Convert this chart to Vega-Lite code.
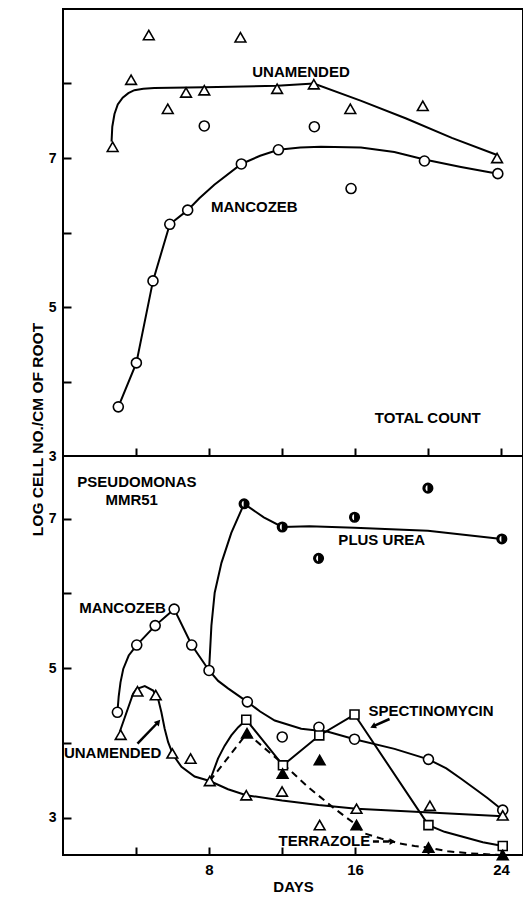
{
  "$schema": "https://vega.github.io/schema/vega-lite/v6.json",
  "background": "white",
  "padding": {"left": 29, "top": 8, "right": 1, "bottom": 2},
  "bounds": "flush",
  "spacing": 0,
  "resolve": {"scale": {"y": "independent"}},
  "config": {
    "font": "Liberation Sans",
    "view": {"stroke": "black", "strokeWidth": 2, "fill": "white"},
    "axis": {
      "domain": false, "grid": false,
      "tickColor": "black", "tickSize": -8, "tickWidth": 2,
      "labelFont": "Liberation Sans", "labelFontWeight": "bold", "labelColor": "black",
      "titleFont": "Liberation Sans", "titleFontWeight": "bold", "titleColor": "black"
    },
    "text": {"font": "Liberation Sans", "fontWeight": "bold", "fontSize": 15, "fill": "black"}
  },
  "datasets": {
    "top_pts": [
      {"series": "UNAMENDED", "day": 2.72, "val": 7.15},
      {"series": "UNAMENDED", "day": 3.73, "val": 8.05},
      {"series": "UNAMENDED", "day": 4.70, "val": 8.65},
      {"series": "UNAMENDED", "day": 5.74, "val": 7.66},
      {"series": "UNAMENDED", "day": 6.74, "val": 7.88},
      {"series": "UNAMENDED", "day": 7.74, "val": 7.91},
      {"series": "UNAMENDED", "day": 9.72, "val": 8.62},
      {"series": "UNAMENDED", "day": 11.73, "val": 7.93},
      {"series": "UNAMENDED", "day": 13.74, "val": 7.99},
      {"series": "UNAMENDED", "day": 15.74, "val": 7.66},
      {"series": "UNAMENDED", "day": 19.71, "val": 7.70},
      {"series": "UNAMENDED", "day": 23.78, "val": 7.00},
      {"series": "MANCOZEB", "day": 3.03, "val": 3.66},
      {"series": "MANCOZEB", "day": 4.02, "val": 4.25},
      {"series": "MANCOZEB", "day": 4.93, "val": 5.35},
      {"series": "MANCOZEB", "day": 5.85, "val": 6.11},
      {"series": "MANCOZEB", "day": 6.83, "val": 6.30},
      {"series": "MANCOZEB", "day": 7.74, "val": 7.43},
      {"series": "MANCOZEB", "day": 9.77, "val": 6.92},
      {"series": "MANCOZEB", "day": 11.80, "val": 7.11},
      {"series": "MANCOZEB", "day": 13.77, "val": 7.42},
      {"series": "MANCOZEB", "day": 15.78, "val": 6.59},
      {"series": "MANCOZEB", "day": 19.80, "val": 6.96},
      {"series": "MANCOZEB", "day": 23.82, "val": 6.79}
    ],
    "top_curves": [
      {"series": "UNAMENDED", "day": 2.66, "val": 7.22},
      {"series": "UNAMENDED", "day": 2.70, "val": 7.42},
      {"series": "UNAMENDED", "day": 2.82, "val": 7.59},
      {"series": "UNAMENDED", "day": 3.00, "val": 7.72},
      {"series": "UNAMENDED", "day": 3.27, "val": 7.81},
      {"series": "UNAMENDED", "day": 3.58, "val": 7.87},
      {"series": "UNAMENDED", "day": 3.91, "val": 7.91},
      {"series": "UNAMENDED", "day": 4.40, "val": 7.93},
      {"series": "UNAMENDED", "day": 5.00, "val": 7.94},
      {"series": "UNAMENDED", "day": 7.74, "val": 7.95},
      {"series": "UNAMENDED", "day": 11.73, "val": 7.97},
      {"series": "UNAMENDED", "day": 13.74, "val": 8.00},
      {"series": "UNAMENDED", "day": 16.30, "val": 7.77},
      {"series": "UNAMENDED", "day": 18.80, "val": 7.53},
      {"series": "UNAMENDED", "day": 21.30, "val": 7.27},
      {"series": "UNAMENDED", "day": 23.78, "val": 7.04},
      {"series": "MANCOZEB", "day": 3.03, "val": 3.66},
      {"series": "MANCOZEB", "day": 4.02, "val": 4.25},
      {"series": "MANCOZEB", "day": 4.93, "val": 5.35},
      {"series": "MANCOZEB", "day": 5.85, "val": 6.11},
      {"series": "MANCOZEB", "day": 6.83, "val": 6.30},
      {"series": "MANCOZEB", "day": 7.47, "val": 6.46},
      {"series": "MANCOZEB", "day": 8.29, "val": 6.64},
      {"series": "MANCOZEB", "day": 9.77, "val": 6.92},
      {"series": "MANCOZEB", "day": 10.80, "val": 7.03},
      {"series": "MANCOZEB", "day": 11.80, "val": 7.11},
      {"series": "MANCOZEB", "day": 13.00, "val": 7.14},
      {"series": "MANCOZEB", "day": 14.13, "val": 7.15},
      {"series": "MANCOZEB", "day": 16.32, "val": 7.14},
      {"series": "MANCOZEB", "day": 18.15, "val": 7.08},
      {"series": "MANCOZEB", "day": 19.80, "val": 6.98},
      {"series": "MANCOZEB", "day": 21.80, "val": 6.88},
      {"series": "MANCOZEB", "day": 23.82, "val": 6.79}
    ],
    "top_labels": [
      {"label": "UNAMENDED", "day": 13.04, "val": 8.16},
      {"label": "MANCOZEB", "day": 10.48, "val": 6.34},
      {"label": "TOTAL COUNT", "day": 19.98, "val": 3.51}
    ],
    "bot_pts": [
      {"series": "MANCOZEB", "day": 2.98, "val": 4.41},
      {"series": "MANCOZEB", "day": 4.04, "val": 5.31},
      {"series": "MANCOZEB", "day": 5.05, "val": 5.57},
      {"series": "MANCOZEB", "day": 6.09, "val": 5.79},
      {"series": "MANCOZEB", "day": 7.05, "val": 5.31},
      {"series": "MANCOZEB", "day": 8.00, "val": 4.97},
      {"series": "MANCOZEB", "day": 10.10, "val": 4.55},
      {"series": "MANCOZEB", "day": 12.01, "val": 4.08},
      {"series": "MANCOZEB", "day": 14.02, "val": 4.21},
      {"series": "MANCOZEB", "day": 15.97, "val": 4.05},
      {"series": "MANCOZEB", "day": 20.02, "val": 3.78},
      {"series": "MANCOZEB", "day": 24.09, "val": 3.10},
      {"series": "UNAMENDED", "day": 3.16, "val": 4.11},
      {"series": "UNAMENDED", "day": 4.08, "val": 4.69},
      {"series": "UNAMENDED", "day": 5.08, "val": 4.64},
      {"series": "UNAMENDED", "day": 5.99, "val": 3.86},
      {"series": "UNAMENDED", "day": 6.99, "val": 3.79},
      {"series": "UNAMENDED", "day": 8.04, "val": 3.49},
      {"series": "UNAMENDED", "day": 10.04, "val": 3.30},
      {"series": "UNAMENDED", "day": 12.00, "val": 3.35},
      {"series": "UNAMENDED", "day": 14.06, "val": 2.90},
      {"series": "UNAMENDED", "day": 16.08, "val": 3.12},
      {"series": "UNAMENDED", "day": 20.10, "val": 3.16},
      {"series": "UNAMENDED", "day": 24.09, "val": 3.03},
      {"series": "SPECTINOMYCIN", "day": 10.04, "val": 4.31},
      {"series": "SPECTINOMYCIN", "day": 12.05, "val": 3.70},
      {"series": "SPECTINOMYCIN", "day": 14.04, "val": 4.10},
      {"series": "SPECTINOMYCIN", "day": 15.97, "val": 4.38},
      {"series": "SPECTINOMYCIN", "day": 20.02, "val": 2.90},
      {"series": "SPECTINOMYCIN", "day": 24.09, "val": 2.62},
      {"series": "TERRAZOLE", "day": 10.08, "val": 4.13},
      {"series": "TERRAZOLE", "day": 12.03, "val": 3.59},
      {"series": "TERRAZOLE", "day": 14.06, "val": 3.77},
      {"series": "TERRAZOLE", "day": 16.08, "val": 2.90},
      {"series": "TERRAZOLE", "day": 20.02, "val": 2.60},
      {"series": "TERRAZOLE", "day": 24.09, "val": 2.50},
      {"series": "PLUS UREA", "day": 9.92, "val": 7.20},
      {"series": "PLUS UREA", "day": 12.01, "val": 6.89},
      {"series": "PLUS UREA", "day": 14.00, "val": 6.47},
      {"series": "PLUS UREA", "day": 15.97, "val": 7.02},
      {"series": "PLUS UREA", "day": 19.99, "val": 7.41},
      {"series": "PLUS UREA", "day": 24.04, "val": 6.73}
    ],
    "bot_curves": [
      {"series": "MANCOZEB", "day": 2.98, "val": 4.41},
      {"series": "MANCOZEB", "day": 3.05, "val": 4.62},
      {"series": "MANCOZEB", "day": 3.15, "val": 4.81},
      {"series": "MANCOZEB", "day": 3.30, "val": 4.99},
      {"series": "MANCOZEB", "day": 3.60, "val": 5.17},
      {"series": "MANCOZEB", "day": 4.04, "val": 5.31},
      {"series": "MANCOZEB", "day": 5.05, "val": 5.57},
      {"series": "MANCOZEB", "day": 6.09, "val": 5.79},
      {"series": "MANCOZEB", "day": 7.05, "val": 5.31},
      {"series": "MANCOZEB", "day": 8.00, "val": 4.97},
      {"series": "MANCOZEB", "day": 8.50, "val": 4.83},
      {"series": "MANCOZEB", "day": 9.04, "val": 4.73},
      {"series": "MANCOZEB", "day": 10.10, "val": 4.55},
      {"series": "MANCOZEB", "day": 10.80, "val": 4.42},
      {"series": "MANCOZEB", "day": 11.60, "val": 4.30},
      {"series": "MANCOZEB", "day": 13.05, "val": 4.19},
      {"series": "MANCOZEB", "day": 14.52, "val": 4.15},
      {"series": "MANCOZEB", "day": 15.97, "val": 4.05},
      {"series": "MANCOZEB", "day": 18.16, "val": 3.92},
      {"series": "MANCOZEB", "day": 20.02, "val": 3.78},
      {"series": "MANCOZEB", "day": 21.00, "val": 3.66},
      {"series": "MANCOZEB", "day": 21.81, "val": 3.52},
      {"series": "MANCOZEB", "day": 22.60, "val": 3.38},
      {"series": "MANCOZEB", "day": 23.27, "val": 3.26},
      {"series": "MANCOZEB", "day": 24.09, "val": 3.10},
      {"series": "UNAMENDED", "day": 3.11, "val": 4.15},
      {"series": "UNAMENDED", "day": 3.84, "val": 4.66},
      {"series": "UNAMENDED", "day": 4.02, "val": 4.72},
      {"series": "UNAMENDED", "day": 4.48, "val": 4.76},
      {"series": "UNAMENDED", "day": 4.94, "val": 4.70},
      {"series": "UNAMENDED", "day": 5.21, "val": 4.59},
      {"series": "UNAMENDED", "day": 5.39, "val": 4.41},
      {"series": "UNAMENDED", "day": 5.57, "val": 4.19},
      {"series": "UNAMENDED", "day": 5.76, "val": 4.01},
      {"series": "UNAMENDED", "day": 6.03, "val": 3.84},
      {"series": "UNAMENDED", "day": 6.49, "val": 3.68},
      {"series": "UNAMENDED", "day": 7.21, "val": 3.55},
      {"series": "UNAMENDED", "day": 8.04, "val": 3.49},
      {"series": "UNAMENDED", "day": 9.04, "val": 3.38},
      {"series": "UNAMENDED", "day": 10.04, "val": 3.30},
      {"series": "UNAMENDED", "day": 12.00, "val": 3.23},
      {"series": "UNAMENDED", "day": 14.00, "val": 3.17},
      {"series": "UNAMENDED", "day": 16.08, "val": 3.12},
      {"series": "UNAMENDED", "day": 20.10, "val": 3.07},
      {"series": "UNAMENDED", "day": 24.09, "val": 3.02},
      {"series": "SPECTINOMYCIN", "day": 8.04, "val": 3.49},
      {"series": "SPECTINOMYCIN", "day": 8.49, "val": 3.79},
      {"series": "SPECTINOMYCIN", "day": 8.85, "val": 3.96},
      {"series": "SPECTINOMYCIN", "day": 9.22, "val": 4.10},
      {"series": "SPECTINOMYCIN", "day": 9.60, "val": 4.21},
      {"series": "SPECTINOMYCIN", "day": 10.04, "val": 4.31},
      {"series": "SPECTINOMYCIN", "day": 12.05, "val": 3.70},
      {"series": "SPECTINOMYCIN", "day": 14.04, "val": 4.10},
      {"series": "SPECTINOMYCIN", "day": 15.97, "val": 4.38},
      {"series": "SPECTINOMYCIN", "day": 20.02, "val": 2.90},
      {"series": "SPECTINOMYCIN", "day": 20.90, "val": 2.81},
      {"series": "SPECTINOMYCIN", "day": 21.80, "val": 2.75},
      {"series": "SPECTINOMYCIN", "day": 23.00, "val": 2.67},
      {"series": "SPECTINOMYCIN", "day": 24.09, "val": 2.62},
      {"series": "PLUS UREA", "day": 8.00, "val": 4.97},
      {"series": "PLUS UREA", "day": 8.13, "val": 5.57},
      {"series": "PLUS UREA", "day": 8.31, "val": 6.01},
      {"series": "PLUS UREA", "day": 8.68, "val": 6.41},
      {"series": "PLUS UREA", "day": 9.22, "val": 6.81},
      {"series": "PLUS UREA", "day": 9.92, "val": 7.20},
      {"series": "PLUS UREA", "day": 11.00, "val": 7.02},
      {"series": "PLUS UREA", "day": 12.01, "val": 6.89},
      {"series": "PLUS UREA", "day": 13.50, "val": 6.90},
      {"series": "PLUS UREA", "day": 15.97, "val": 6.88},
      {"series": "PLUS UREA", "day": 19.99, "val": 6.84},
      {"series": "PLUS UREA", "day": 24.04, "val": 6.73},
      {"series": "TERRAZOLE", "day": 8.04, "val": 3.49},
      {"series": "TERRAZOLE", "day": 10.08, "val": 4.13},
      {"series": "TERRAZOLE", "day": 12.05, "val": 3.72},
      {"series": "TERRAZOLE", "day": 13.42, "val": 3.41},
      {"series": "TERRAZOLE", "day": 14.88, "val": 3.12},
      {"series": "TERRAZOLE", "day": 16.08, "val": 2.90},
      {"series": "TERRAZOLE", "day": 16.52, "val": 2.79},
      {"series": "TERRAZOLE", "day": 17.43, "val": 2.72},
      {"series": "TERRAZOLE", "day": 18.35, "val": 2.66},
      {"series": "TERRAZOLE", "day": 19.26, "val": 2.62},
      {"series": "TERRAZOLE", "day": 20.02, "val": 2.60},
      {"series": "TERRAZOLE", "day": 21.08, "val": 2.55},
      {"series": "TERRAZOLE", "day": 22.36, "val": 2.52},
      {"series": "TERRAZOLE", "day": 24.09, "val": 2.50}
    ],
    "bot_labels": [
      {"label": "PSEUDOMONAS", "day": 4.05, "val": 7.49},
      {"label": "MMR51", "day": 3.76, "val": 7.25},
      {"label": "PLUS UREA", "day": 17.46, "val": 6.72},
      {"label": "MANCOZEB", "day": 3.26, "val": 5.80},
      {"label": "UNAMENDED", "day": 2.72, "val": 3.87},
      {"label": "SPECTINOMYCIN", "day": 20.16, "val": 4.43},
      {"label": "TERRAZOLE", "day": 14.32, "val": 2.69}
    ],
    "arrows": [
      {"name": "UNAMENDED", "day": 4.08, "val": 3.99, "day2": 5.22, "val2": 4.28},
      {"name": "SPECTINOMYCIN", "day": 17.89, "val": 4.32, "day2": 16.98, "val2": 4.22},
      {"name": "TERRAZOLE", "day": 16.98, "val": 2.68, "day2": 18.05, "val2": 2.68}
    ]
  },
  "vconcat": [
    {
      "width": 460,
      "height": 447,
      "encoding": {
        "x": {"field": "day", "type": "quantitative",
              "scale": {"domain": [0, 25.2], "nice": false, "zero": false},
              "axis": {"values": [4, 8, 12, 16, 20, 24], "labels": false, "title": null}},
        "y": {"field": "val", "type": "quantitative",
              "scale": {"domain": [3, 9], "nice": false, "zero": false},
              "axis": {"values": [3, 4, 5, 6, 7, 8],
                       "labelExpr": "datum.value % 2 == 1 ? datum.label : ''",
                       "labelFontSize": 14, "labelPadding": 15,
                       "title": "LOG CELL NO./CM OF ROOT",
                       "titleFontSize": 15.5, "titleAngle": 270,
                       "titleX": -21, "titleY": 420,
                       "titleAlign": "center", "titleBaseline": "alphabetic"}}
      },
      "layer": [
        {
          "data": {"name": "top_curves"},
          "mark": {"type": "line", "color": "black", "strokeWidth": 2},
          "encoding": {"detail": {"field": "series", "type": "nominal"}}
        },
        {
          "data": {"name": "top_pts"},
          "transform": [{"filter": "datum.series == 'UNAMENDED'"}],
          "mark": {"type": "point", "shape": "triangle-up", "size": 115, "filled": true, "fill": "white", "stroke": "black", "strokeWidth": 1.6, "opacity": 1},
          "encoding": {}
        },
        {
          "data": {"name": "top_pts"},
          "transform": [{"filter": "datum.series == 'MANCOZEB'"}],
          "mark": {"type": "point", "shape": "circle", "size": 100, "filled": true, "fill": "white", "stroke": "black", "strokeWidth": 1.6, "opacity": 1},
          "encoding": {}
        },
        {
          "data": {"name": "top_labels"},
          "mark": {"type": "text", "align": "center", "baseline": "middle"},
          "encoding": {"text": {"field": "label", "type": "nominal"}}
        }
      ]
    },
    {
      "width": 460,
      "height": 399,
      "encoding": {
        "x": {"field": "day", "type": "quantitative",
              "scale": {"domain": [0, 25.2], "nice": false, "zero": false},
              "axis": {"values": [4, 8, 12, 16, 20, 24],
                       "labelExpr": "datum.value % 8 == 0 ? datum.label : ''",
                       "labelFontSize": 15, "labelPadding": 15,
                       "title": "DAYS", "titleFontSize": 15, "titlePadding": 2}},
        "y": {"field": "val", "type": "quantitative",
              "scale": {"domain": [2.5, 7.84], "nice": false, "zero": false},
              "axis": {"values": [3, 4, 5, 6, 7],
                       "labelExpr": "datum.value % 2 == 1 ? datum.label : ''",
                       "labelFontSize": 14, "labelPadding": 15, "title": null}}
      },
      "layer": [
        {
          "data": {"name": "bot_curves"},
          "transform": [{"filter": "datum.series != 'TERRAZOLE'"}],
          "mark": {"type": "line", "color": "black", "strokeWidth": 2},
          "encoding": {"detail": {"field": "series", "type": "nominal"}}
        },
        {
          "data": {"name": "bot_curves"},
          "transform": [{"filter": "datum.series == 'TERRAZOLE'"}],
          "mark": {"type": "line", "color": "black", "strokeWidth": 2, "strokeDash": [7, 5]},
          "encoding": {}
        },
        {
          "data": {"name": "arrows"},
          "transform": [{"filter": "datum.name != 'TERRAZOLE'"}],
          "mark": {"type": "rule", "color": "black", "strokeWidth": 2.5},
          "encoding": {"x2": {"field": "day2"}, "y2": {"field": "val2"}}
        },
        {
          "data": {"name": "arrows"},
          "transform": [{"filter": "datum.name == 'TERRAZOLE'"}],
          "mark": {"type": "rule", "color": "black", "strokeWidth": 2.5, "strokeDash": [6, 4]},
          "encoding": {"x2": {"field": "day2"}, "y2": {"field": "val2"}}
        },
        {
          "data": {"name": "arrows"},
          "transform": [{"filter": "datum.name == 'UNAMENDED'"}],
          "mark": {"type": "point", "shape": "triangle-up", "angle": 42, "filled": true, "color": "black", "size": 45, "opacity": 1},
          "encoding": {"x": {"field": "day2", "type": "quantitative"}, "y": {"field": "val2", "type": "quantitative"}}
        },
        {
          "data": {"name": "arrows"},
          "transform": [{"filter": "datum.name == 'SPECTINOMYCIN'"}],
          "mark": {"type": "point", "shape": "triangle-up", "angle": 246, "filled": true, "color": "black", "size": 45, "opacity": 1},
          "encoding": {"x": {"field": "day2", "type": "quantitative"}, "y": {"field": "val2", "type": "quantitative"}}
        },
        {
          "data": {"name": "arrows"},
          "transform": [{"filter": "datum.name == 'TERRAZOLE'"}],
          "mark": {"type": "point", "shape": "triangle-up", "angle": 90, "filled": true, "color": "black", "size": 45, "opacity": 1},
          "encoding": {"x": {"field": "day2", "type": "quantitative"}, "y": {"field": "val2", "type": "quantitative"}}
        },
        {
          "data": {"name": "bot_pts"},
          "transform": [{"filter": "datum.series == 'MANCOZEB'"}],
          "mark": {"type": "point", "shape": "circle", "size": 100, "filled": true, "fill": "white", "stroke": "black", "strokeWidth": 1.6, "opacity": 1},
          "encoding": {}
        },
        {
          "data": {"name": "bot_pts"},
          "transform": [{"filter": "datum.series == 'UNAMENDED'"}],
          "mark": {"type": "point", "shape": "triangle-up", "size": 115, "filled": true, "fill": "white", "stroke": "black", "strokeWidth": 1.6, "opacity": 1},
          "encoding": {}
        },
        {
          "data": {"name": "bot_pts"},
          "transform": [{"filter": "datum.series == 'SPECTINOMYCIN'"}],
          "mark": {"type": "point", "shape": "square", "size": 80, "filled": true, "fill": "white", "stroke": "black", "strokeWidth": 1.6, "opacity": 1},
          "encoding": {}
        },
        {
          "data": {"name": "bot_pts"},
          "transform": [{"filter": "datum.series == 'TERRAZOLE'"}],
          "mark": {"type": "point", "shape": "triangle-up", "size": 115, "filled": true, "fill": "black", "stroke": "black", "strokeWidth": 1.6, "opacity": 1},
          "encoding": {}
        },
        {
          "data": {"name": "bot_pts"},
          "transform": [{"filter": "datum.series == 'PLUS UREA'"}],
          "mark": {"type": "point", "shape": "circle", "size": 90, "filled": true, "fill": "black", "stroke": "black", "strokeWidth": 1.6, "opacity": 1},
          "encoding": {}
        },
        {
          "data": {"name": "bot_pts"},
          "transform": [{"filter": "datum.series == 'PLUS UREA'"}],
          "mark": {"type": "point", "filled": true, "fill": "white", "strokeWidth": 0, "opacity": 1,
                   "size": 90, "shape": "M-0.1,-0.62A0.4,0.62,0,0,0,-0.1,0.62Z"},
          "encoding": {}
        },
        {
          "data": {"name": "bot_labels"},
          "mark": {"type": "text", "align": "center", "baseline": "middle"},
          "encoding": {"text": {"field": "label", "type": "nominal"}}
        }
      ]
    }
  ]
}
